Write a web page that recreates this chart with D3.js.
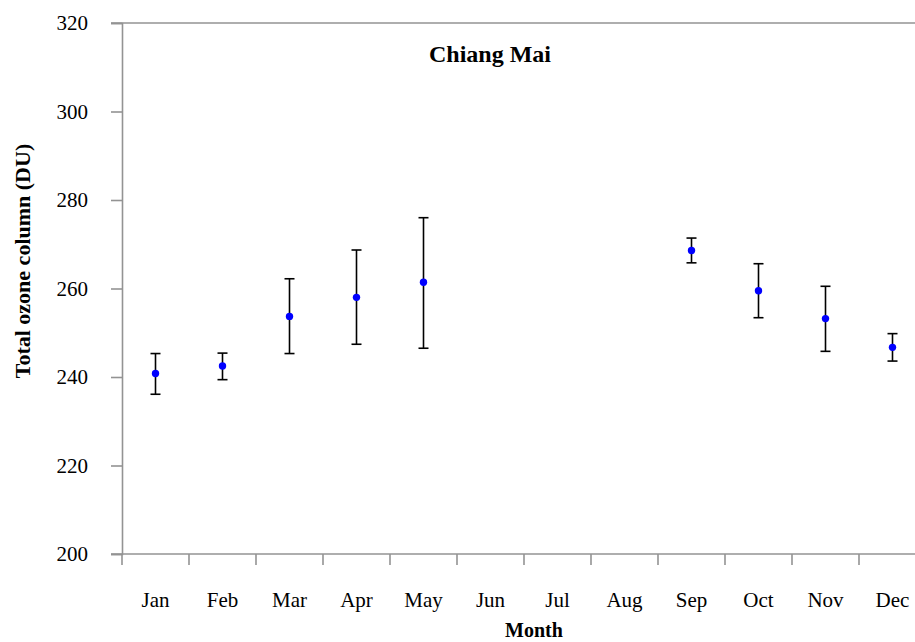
<!DOCTYPE html>
<html>
<head>
<meta charset="utf-8">
<script src="https://cdn.jsdelivr.net/npm/d3@7"></script>
<style>
  html, body { margin: 0; padding: 0; background: #fff; }
  svg { display: block; }
  text { font-family: "Liberation Serif", "Times New Roman", serif; fill: #000; }
</style>
</head>
<body>
<script>
const months = ["Jan","Feb","Mar","Apr","May","Jun","Jul","Aug","Sep","Oct","Nov","Dec"];
// mean total ozone column (DU); null = no data
const meanValues = [240.8, 242.5, 253.7, 258.0, 261.4, null, null, null, 268.6, 259.5, 253.2, 246.7];
const upperValues = [245.3, 245.4, 262.2, 268.7, 276.0, null, null, null, 271.4, 265.6, 260.5, 249.8];
const lowerValues = [236.1, 239.4, 245.3, 247.4, 246.5, null, null, null, 265.8, 253.4, 245.8, 243.6];
const yTicks = [200, 220, 240, 260, 280, 300, 320];

const W = 915, H = 642;
const mLeft = 122, mTop = 23, mBottom = 554, mRight = 926;
const axisColor = "#939393";

const svg = d3.select("body").append("svg").attr("width", W).attr("height", H);

const x = d3.scaleBand().domain(months).range([mLeft, mRight]).paddingInner(0).paddingOuter(0);
const y = d3.scaleLinear().domain([200, 320]).range([mBottom, mTop]);

// top border line
svg.append("line").attr("x1", mLeft - 11).attr("x2", W).attr("y1", y(320)).attr("y2", y(320))
  .attr("stroke", axisColor).attr("stroke-width", 1.6);

// y axis
const yAxis = d3.axisLeft(y).tickValues(yTicks).tickSize(11).tickPadding(23).tickFormat(d3.format("d"));
const gy = svg.append("g").attr("transform", `translate(${mLeft},0)`).call(yAxis);
gy.select(".domain").attr("stroke", axisColor).attr("stroke-width", 1.6);
gy.selectAll(".tick line").attr("stroke", axisColor).attr("stroke-width", 1.6);
gy.selectAll(".tick text").style("font-family", '"Liberation Serif", serif').style("font-size", "21px").attr("fill", "#000");

// x axis
const gx = svg.append("g");
gx.append("line").attr("x1", mLeft - 11).attr("x2", W).attr("y1", mBottom).attr("y2", mBottom)
  .attr("stroke", axisColor).attr("stroke-width", 1.6);
const boundaries = months.map(m => x(m)).concat([x(months[months.length - 1]) + x.bandwidth()]);
gx.selectAll("line.xt").data(boundaries).join("line").attr("class", "xt")
  .attr("x1", d => d).attr("x2", d => d).attr("y1", mBottom).attr("y2", mBottom + 11)
  .attr("stroke", axisColor).attr("stroke-width", 1.6);
gx.selectAll("text.xl").data(months).join("text").attr("class", "xl")
  .attr("x", d => x(d) + x.bandwidth() / 2).attr("y", 607)
  .attr("text-anchor", "middle").style("font-size", "21px").text(d => d);

// data
const data = months.map((m, i) => ({ m, v: meanValues[i], hi: upperValues[i], lo: lowerValues[i] }))
  .filter(d => d.v != null);

const cx = d => x(d.m) + x.bandwidth() / 2;
const eb = svg.append("g").attr("stroke", "#000").attr("stroke-width", 1.6);
eb.selectAll("line.v").data(data).join("line").attr("class", "v")
  .attr("x1", cx).attr("x2", cx).attr("y1", d => y(d.hi)).attr("y2", d => y(d.lo));
eb.selectAll("line.ct").data(data).join("line").attr("class", "ct")
  .attr("x1", d => cx(d) - 5).attr("x2", d => cx(d) + 5).attr("y1", d => y(d.hi)).attr("y2", d => y(d.hi));
eb.selectAll("line.cb").data(data).join("line").attr("class", "cb")
  .attr("x1", d => cx(d) - 5).attr("x2", d => cx(d) + 5).attr("y1", d => y(d.lo)).attr("y2", d => y(d.lo));

svg.append("g").selectAll("circle").data(data).join("circle")
  .attr("cx", cx).attr("cy", d => y(d.v)).attr("r", 3.7).attr("fill", "#0000ff");

// titles
svg.append("text").attr("x", 490).attr("y", 62).attr("text-anchor", "middle")
  .style("font-size", "24px").style("font-weight", "bold").text("Chiang Mai");
svg.append("text").attr("x", 534).attr("y", 637).attr("text-anchor", "middle")
  .style("font-size", "20px").style("font-weight", "bold").text("Month");
svg.append("text").attr("transform", "translate(30,261) rotate(-90)").attr("text-anchor", "middle")
  .style("font-size", "22px").style("font-weight", "bold").text("Total ozone column (DU)");
</script>
</body>
</html>
